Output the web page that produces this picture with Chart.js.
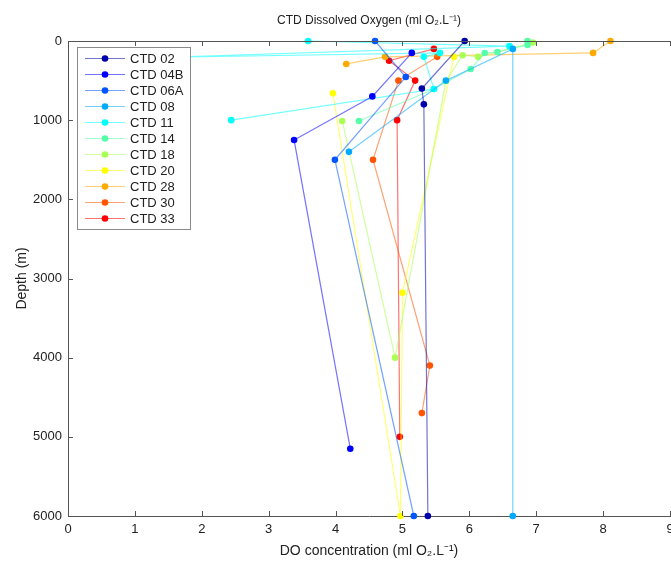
<!DOCTYPE html>
<html lang="en">
<head>
<meta charset="UTF-8">
<title>CTD Dissolved Oxygen</title>
<script src="https://cdn.jsdelivr.net/npm/chart.js"></script>
<style>
    html, body { margin: 0; padding: 0; background: #fff; overflow: hidden; }
</style>
</head>
<body>
<canvas id="doChart" width="690" height="565"></canvas>

<script>
    // Station names (legend order)
    var stations = ['CTD 02', 'CTD 04B', 'CTD 06A', 'CTD 08', 'CTD 11', 'CTD 14',
                    'CTD 18', 'CTD 20', 'CTD 28', 'CTD 30', 'CTD 33'];

    // DO concentration (ml O2/L) and depth (m) per station, in plotted order
    var do02  = [5.93, 5.29, 5.32, 5.38];
    var dep02 = [0, 600, 800, 6000];
    var do04B  = [5.14, 4.55, 3.38, 4.22];
    var dep04B = [150, 700, 1250, 5150];
    var do06A  = [4.59, 5.05, 3.99, 5.17];
    var dep06A = [0, 455, 1500, 6000];
    var do08  = [4.20, 5.65, 6.65, 6.65];
    var dep08 = [1400, 500, 100, 6000];
    var do11  = [3.59, 6.60, 1.50, 5.56, 5.32, 5.47, 2.44];
    var dep11 = [0, 65, 205, 150, 200, 606, 1000];
    var do14  = [6.87, 6.87, 6.42, 6.23, 6.02, 5.47, 4.35];
    var dep14 = [0, 50, 139, 152, 354, 606, 1010];
    var do18  = [6.95, 6.13, 5.90, 5.65, 4.89, 4.10];
    var dep18 = [20, 200, 180, 505, 4000, 1010];
    var do20  = [5.77, 5.00, 4.97, 3.96];
    var dep20 = [200, 3180, 6000, 660];
    var do28  = [8.11, 7.85, 4.74, 4.16];
    var dep28 = [0, 150, 200, 290];
    var do30  = [5.52, 4.94, 4.56, 5.41, 5.29];
    var dep30 = [200, 500, 1500, 4100, 4700];
    var do33  = [5.47, 4.80, 5.19, 4.92, 4.96];
    var dep33 = [100, 250, 500, 1000, 5000];

    var xTicks = [0, 1, 2, 3, 4, 5, 6, 7, 8, 9];
    var yTicks = [0, 1000, 2000, 3000, 4000, 5000, 6000];

    // jet(11) colours
    var colors = [[0, 0, 170], [0, 0, 255], [0, 85, 255], [0, 170, 255], [0, 255, 255],
                  [85, 255, 170], [170, 255, 85], [255, 255, 0], [255, 170, 0],
                  [255, 85, 0], [255, 0, 0]];

    var allDo = [do02, do04B, do06A, do08, do11, do14, do18, do20, do28, do30, do33];
    var allDep = [dep02, dep04B, dep06A, dep08, dep11, dep14, dep18, dep20, dep28, dep30, dep33];

    function rgba(c, a) { return 'rgba(' + c[0] + ',' + c[1] + ',' + c[2] + ',' + a + ')'; }

    var datasets = stations.map(function(name, i) {
        return {
            label: name,
            data: allDo[i].map(function(v, j) { return {x: v, y: allDep[i][j]}; }),
            borderColor: rgba(colors[i], 0.55),
            backgroundColor: rgba(colors[i], 1),
            pointBackgroundColor: rgba(colors[i], 1),
            pointBorderWidth: 0,
            pointRadius: 3.3,
            borderWidth: 1.2,
            tension: 0,
            showLine: true,
            clip: false
        };
    });

    var FONT = '"Liberation Sans", Arial, sans-serif';

    // legend box inside the plot, MATLAB style
    var boxLegend = {
        id: 'boxLegend',
        afterDatasetsDraw: function(chart) {
            var ctx = chart.ctx;
            var x0 = 77, y0 = 47, w = 113, h = 182;
            ctx.save();
            ctx.fillStyle = '#fff';
            ctx.fillRect(x0, y0, w, h);
            ctx.strokeStyle = '#8a8a8a';
            ctx.lineWidth = 1;
            ctx.strokeRect(x0 + 0.5, y0 + 0.5, w, h);
            ctx.font = '13px ' + FONT;
            ctx.textBaseline = 'middle';
            chart.data.datasets.forEach(function(ds, i) {
                var cy = y0 + 11.5 + i * 16;
                ctx.strokeStyle = ds.borderColor;
                ctx.lineWidth = 1.2;
                ctx.beginPath();
                ctx.moveTo(85, cy);
                ctx.lineTo(125, cy);
                ctx.stroke();
                ctx.fillStyle = ds.pointBackgroundColor;
                ctx.beginPath();
                ctx.arc(105, cy, 3.3, 0, Math.PI * 2);
                ctx.fill();
                ctx.fillStyle = '#222';
                ctx.fillText(ds.label, 130, cy + 0.5);
            });
            ctx.restore();
        }
    };

    // inward tick marks, top box line and the title centred on the plot area
    var inwardTicks = {
        id: 'inwardTicks',
        afterDraw: function(chart) {
            var ctx = chart.ctx, a = chart.chartArea;
            var xs = chart.scales.x, ys = chart.scales.y;
            ctx.save();
            ctx.strokeStyle = '#555';
            ctx.lineWidth = 1;
            ctx.beginPath();
            ctx.moveTo(a.left, a.top + 0.5);
            ctx.lineTo(a.right, a.top + 0.5);
            xTicks.forEach(function(v) {
                var px = Math.round(xs.getPixelForValue(v)) + 0.5;
                ctx.moveTo(px, a.bottom);
                ctx.lineTo(px, a.bottom - 5);
                ctx.moveTo(px, a.top);
                ctx.lineTo(px, a.top + 5);
            });
            yTicks.forEach(function(v) {
                var py = Math.round(ys.getPixelForValue(v)) + 0.5;
                ctx.moveTo(a.left, py);
                ctx.lineTo(a.left + 5, py);
            });
            ctx.stroke();

            ctx.fillStyle = '#222';
            ctx.font = '12px ' + FONT;
            ctx.textAlign = 'center';
            ctx.textBaseline = 'middle';
            ctx.fillText('CTD Dissolved Oxygen (ml O\u2082.L\u207B\u00B9)', (a.left + a.right) / 2, 21);
            ctx.restore();
        }
    };

    var ctx = document.getElementById('doChart').getContext('2d');
    new Chart(ctx, {
        type: 'line',
        data: { datasets: datasets },
        options: {
            responsive: false,
            animation: false,
            layout: { padding: { left: 0, right: 20, top: 41, bottom: 0 } },
            plugins: {
                legend: { display: false },
                tooltip: { enabled: false },
                title: { display: false }
            },
            scales: {
                x: {
                    type: 'linear',
                    min: 0, max: 9,
                    afterBuildTicks: function(s) { s.ticks = xTicks.map(function(v) { return {value: v}; }); },
                    afterFit: function(s) { s.height = 49; },
                    ticks: { color: '#222', padding: 6, font: { family: FONT, size: 13 },
                             callback: function(v) { return String(v); } },
                    grid: { drawOnChartArea: false, drawTicks: false },
                    border: { color: '#555', width: 1 },
                    title: {
                        display: true,
                        text: 'DO concentration (ml O\u2082.L\u207B\u00B9)',
                        color: '#222',
                        font: { family: FONT, size: 14 },
                        padding: { top: 0, bottom: 5 }
                    }
                },
                y: {
                    type: 'linear',
                    reverse: true,
                    min: 0, max: 6000,
                    afterBuildTicks: function(s) { s.ticks = yTicks.map(function(v) { return {value: v}; }); },
                    afterFit: function(s) { s.width = 68; },
                    ticks: { color: '#222', padding: 6, font: { family: FONT, size: 13 },
                             callback: function(v) { return String(v); } },
                    grid: { drawOnChartArea: false, drawTicks: false },
                    border: { color: '#555', width: 1 },
                    title: {
                        display: true,
                        text: 'Depth (m)',
                        color: '#222',
                        font: { family: FONT, size: 14 },
                        padding: { top: 14, bottom: 0 }
                    }
                }
            }
        },
        plugins: [boxLegend, inwardTicks]
    });
</script>
</body>
</html>
